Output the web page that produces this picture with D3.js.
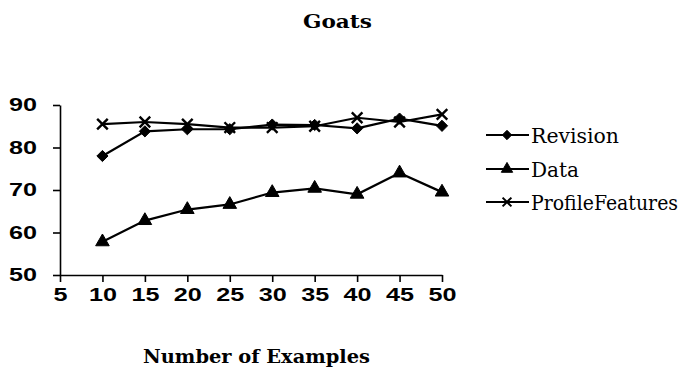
<!DOCTYPE html>
<html>
<head>
<meta charset="utf-8">
<script src="https://cdn.jsdelivr.net/npm/d3@7"></script>
<style>
  html, body { margin: 0; padding: 0; background: #fff; }
  svg { display: block; }
  .serif { font-family: "DejaVu Serif", serif; }
  .sans { font-family: "Liberation Sans", Arial, Helvetica, sans-serif; }
</style>
</head>
<body>
<svg id="chart" width="687" height="371"></svg>
<script>
const examples = [10, 15, 20, 25, 30, 35, 40, 45, 50];
const revision = [78, 83.8, 84.3, 84.3, 85.4, 85.3, 84.5, 86.8, 85.1];
const dataSeries = [57.8, 62.8, 65.4, 66.6, 69.4, 70.4, 69, 74, 69.5];
const profileFeatures = [85.5, 86, 85.5, 84.7, 84.7, 85, 87, 86, 87.8];
const xTicks = [5, 10, 15, 20, 25, 30, 35, 40, 45, 50];
const yTicks = [50, 60, 70, 80, 90];
const seriesNames = ["Revision", "Data", "ProfileFeatures"];

const svg = d3.select("#chart");
svg.append("rect").attr("width", 687).attr("height", 371).attr("fill", "#fff");

const x = d3.scaleLinear().domain([5, 50]).range([60, 442]);
const y = d3.scaleLinear().domain([50, 90]).range([275, 105]);

const yAxis = svg.append("g").attr("transform", "translate(60,0)")
  .call(d3.axisLeft(y).tickValues(yTicks).tickSize(7).tickSizeOuter(0).tickFormat(d3.format("d")));
yAxis.selectAll("text")
  .attr("x", 0)
  .attr("transform", "translate(-23,0) scale(1.4,1)")
  .attr("class", "sans")
  .attr("font-weight", "bold").attr("font-size", 18).attr("fill", "#000");

const xAxis = svg.append("g").attr("transform", "translate(0,275)")
  .call(d3.axisBottom(x).tickValues(xTicks).tickSize(7).tickSizeOuter(0).tickFormat(d3.format("d")));
xAxis.selectAll("text")
  .attr("y", 0).attr("dy", 0)
  .attr("transform", "translate(0,25.5) scale(1.4,1)")
  .attr("class", "sans")
  .attr("font-weight", "bold").attr("font-size", 18).attr("fill", "#000");
svg.selectAll("g").attr("font-family", null);

svg.selectAll(".domain, .tick line").attr("stroke", "#000").attr("stroke-width", 1.6);

const series = [
  { name: seriesNames[0], values: revision, symbol: d3.symbolDiamond2, size: 80, fill: true },
  { name: seriesNames[1], values: dataSeries, symbol: d3.symbolTriangle, size: 80, fill: true },
  { name: seriesNames[2], values: profileFeatures, symbol: d3.symbolX, size: 75, fill: false }
];

const line = d3.line().x((d, i) => x(examples[i])).y(d => y(d));

series.forEach(s => {
  svg.append("path").datum(s.values)
    .attr("d", line).attr("fill", "none").attr("stroke", "#000").attr("stroke-width", 2.2);
  svg.append("g").selectAll("path").data(s.values).join("path")
    .attr("transform", (d, i) => `translate(${x(examples[i])},${y(d)})`)
    .attr("d", d3.symbol().type(s.symbol).size(s.size))
    .attr("fill", s.fill ? "#000" : "none")
    .attr("stroke", "#000").attr("stroke-width", s.fill ? 1 : 2.4);
});

const legendY = [135, 169, 202];
const legendTextLen = [88, 48, 147];
series.forEach((s, i) => {
  const g = svg.append("g").attr("transform", `translate(0,${legendY[i]})`);
  g.append("line").attr("x1", 486).attr("x2", 529).attr("y1", 0).attr("y2", 0)
    .attr("stroke", "#000").attr("stroke-width", 2);
  g.append("path").attr("transform", "translate(507,0)")
    .attr("d", d3.symbol().type(s.symbol).size(s.size * 0.7))
    .attr("fill", s.fill ? "#000" : "none")
    .attr("stroke", "#000").attr("stroke-width", s.fill ? 1 : 2);
  g.append("text").attr("x", 531).attr("y", 8)
    .attr("class", "serif").attr("font-size", 20)
    .attr("textLength", legendTextLen[i]).attr("lengthAdjust", "spacingAndGlyphs")
    .text(s.name);
});

svg.append("text").attr("x", 303).attr("y", 28)
  .attr("class", "serif").attr("font-weight", "bold").attr("font-size", 19)
  .attr("textLength", 69).attr("lengthAdjust", "spacingAndGlyphs")
  .text("Goats");

svg.append("text").attr("x", 143).attr("y", 363)
  .attr("class", "serif").attr("font-weight", "bold").attr("font-size", 18)
  .attr("textLength", 227).attr("lengthAdjust", "spacingAndGlyphs")
  .text("Number of Examples");
</script>
</body>
</html>
